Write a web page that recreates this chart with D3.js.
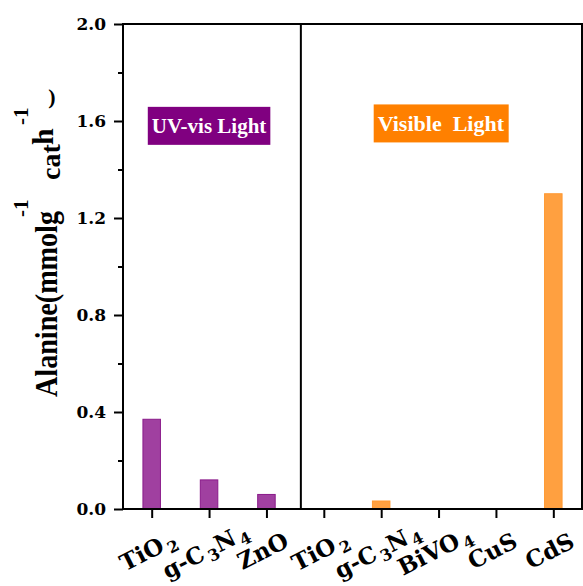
<!DOCTYPE html>
<html>
<head>
<meta charset="utf-8">
<script src="https://cdn.jsdelivr.net/npm/d3@7"></script>
<style>
  body { margin: 0; background: #fff; }
  text { font-family: "Liberation Serif", serif; font-weight: bold; }
</style>
</head>
<body>
<div class="canvas"></div>
<script>
// data
const categories = ["uv-TiO2", "uv-gC3N4", "uv-ZnO", "vis-TiO2", "vis-gC3N4", "vis-BiVO4", "vis-CuS", "vis-CdS"]
const tickLabels = ["TiO_2", "g-C_3N_4", "ZnO", "TiO_2", "g-C_3N_4", "BiVO_4", "CuS", "CdS"]
const uvValues = [0.37, 0.12, 0.06]
const visValues = [0, 0.033, 0, 0, 1.3]
const yTicks = [0, 0.4, 0.8, 1.2, 1.6, 2.0]
const yMinorTicks = [0.2, 0.6, 1.0, 1.4, 1.8]

const svgWidth = 583
const svgHeight = 586
const margin = {top: 24, right: 1, bottom: 77, left: 123}
const graphWidth = svgWidth - margin.left - margin.right
const graphHeight = svgHeight - margin.top - margin.bottom

const svg = d3.select('.canvas')
    .append('svg')
    .attr('width', svgWidth)
    .attr('height', svgHeight)

const graph = svg.append('g')
    .attr('transform', `translate(${margin.left}, ${margin.top})`)

// scales
const x = d3.scalePoint().domain(categories).range([0, graphWidth]).padding(0.5)
const y = d3.scaleLinear().domain([0, 2]).range([graphHeight, 0])
const step = x.step()
const barWidth = step * 0.305
// x position for a fractional category index (divider, label boxes)
const xAt = i => x(categories[0]) + i * step

// bars
const bars = categories.map((c, i) => ({
    cat: c,
    value: i < 3 ? uvValues[i] : visValues[i - 3],
    group: i < 3 ? 'uv' : 'vis'
})).filter(d => d.value > 0)

graph.selectAll('rect.bar')
    .data(bars)
    .enter()
    .append('rect')
    .attr('class', 'bar')
    .attr('x', d => x(d.cat) - barWidth / 2)
    .attr('y', d => y(d.value))
    .attr('width', barWidth)
    .attr('height', d => y(0) - y(d.value))
    .attr('fill', d => d.group == 'uv' ? '#a040a0' : '#ffa040')
    .attr('stroke', d => d.group == 'uv' ? '#8a1a8a' : '#ff9830')
    .attr('stroke-width', 1)

// frame + divider
graph.append('rect')
    .attr('width', graphWidth)
    .attr('height', graphHeight)
    .attr('fill', 'none')
    .attr('stroke', '#000')
    .attr('stroke-width', 2)

graph.append('line')
    .attr('x1', xAt(2.6)).attr('x2', xAt(2.6))
    .attr('y1', 0).attr('y2', graphHeight)
    .attr('stroke', '#000')
    .attr('stroke-width', 2)

// y axis
const yAxis = d3.axisLeft(y)
    .tickValues(yTicks)
    .tickSize(9)
    .tickPadding(8)
    .tickFormat(d3.format('.1f'))
const yAxisGroup = graph.append('g').call(yAxis)
yAxisGroup.select('.domain').remove()
yAxisGroup.selectAll('line').attr('stroke-width', 2)
yAxisGroup.selectAll('text')
    .style('font-family', '"DejaVu Serif", serif')
    .attr('font-size', 17)
    .attr('font-weight', 'bold')

const yMinor = d3.axisLeft(y).tickValues(yMinorTicks).tickSize(5).tickFormat('')
const yMinorGroup = graph.append('g').call(yMinor)
yMinorGroup.select('.domain').remove()
yMinorGroup.selectAll('line').attr('stroke-width', 2)

// x axis
const xAxis = d3.axisBottom(x).tickSize(9).tickFormat('')
const xAxisGroup = graph.append('g')
    .attr('transform', `translate(0, ${graphHeight})`)
    .call(xAxis)
xAxisGroup.select('.domain').remove()
xAxisGroup.selectAll('line').attr('stroke-width', 2)

// rotated tick labels with subscripts
const xLabels = graph.append('g')
categories.forEach((c, i) => {
    const t = xLabels.append('text')
        .attr('text-anchor', 'middle')
        .attr('font-size', 23)
        .style('font-family', '"DejaVu Serif", serif')
        .attr('transform', `translate(${x(c)}, ${graphHeight + 49}) rotate(-27)`)
    const parts = tickLabels[i].split(/(_\d)/).filter(p => p.length)
    let lowered = false
    parts.forEach(p => {
        if (p[0] == '_') {
            t.append('tspan').text(p.slice(1)).attr('font-size', 16).attr('dx', 3).attr('dy', lowered ? 0 : 5)
            lowered = true
        } else {
            t.append('tspan').text(p).attr('dy', lowered ? -5 : 0)
            lowered = false
        }
    })
})

// light labels
const boxes = [
    {text: 'UV-vis Light', pos: 1.0, val: 1.58, color: '#800080', size: 21},
    {text: 'Visible  Light', pos: 5.04, val: 1.59, color: '#ff8000', size: 22}
]
boxes.forEach(b => {
    const g = graph.append('g')
    const rect = g.append('rect').attr('fill', b.color)
    const t = g.append('text')
        .attr('x', xAt(b.pos))
        .attr('y', y(b.val))
        .attr('text-anchor', 'middle')
        .attr('dominant-baseline', 'central')
        .attr('font-size', b.size)
        .attr('fill', '#fff')
        .style('white-space', 'pre')
        .text(b.text)
    const bb = t.node().getBBox()
    rect.attr('x', bb.x - 4).attr('y', y(b.val) - 19)
        .attr('width', bb.width + 8).attr('height', 38)
})

// y label, pieces placed the way the original software set them
// [text, baseline x, start y, font size, stretched length]
const yLabelParts = [
    ['Alanine(mmolg', 57, 397, 32, 186],
    ['-1', 28, 217, 21, 0],
    ['cat', 60, 180, 28, 0],
    ['h', 53, 145, 30, 0],
    ['-1', 28, 125, 21, 0]
]
yLabelParts.forEach(p => {
    const t = svg.append('text')
        .attr('transform', `translate(${p[1]}, ${p[2]}) rotate(-90)`)
        .attr('font-size', p[3])
        .text(p[0])
    if (p[4]) t.attr('textLength', p[4]).attr('lengthAdjust', 'spacingAndGlyphs')
})
svg.append('text')
    .attr('x', 52).attr('y', 104)
    .attr('text-anchor', 'middle')
    .attr('font-size', 22)
    .text(')')
</script>
</body>
</html>
